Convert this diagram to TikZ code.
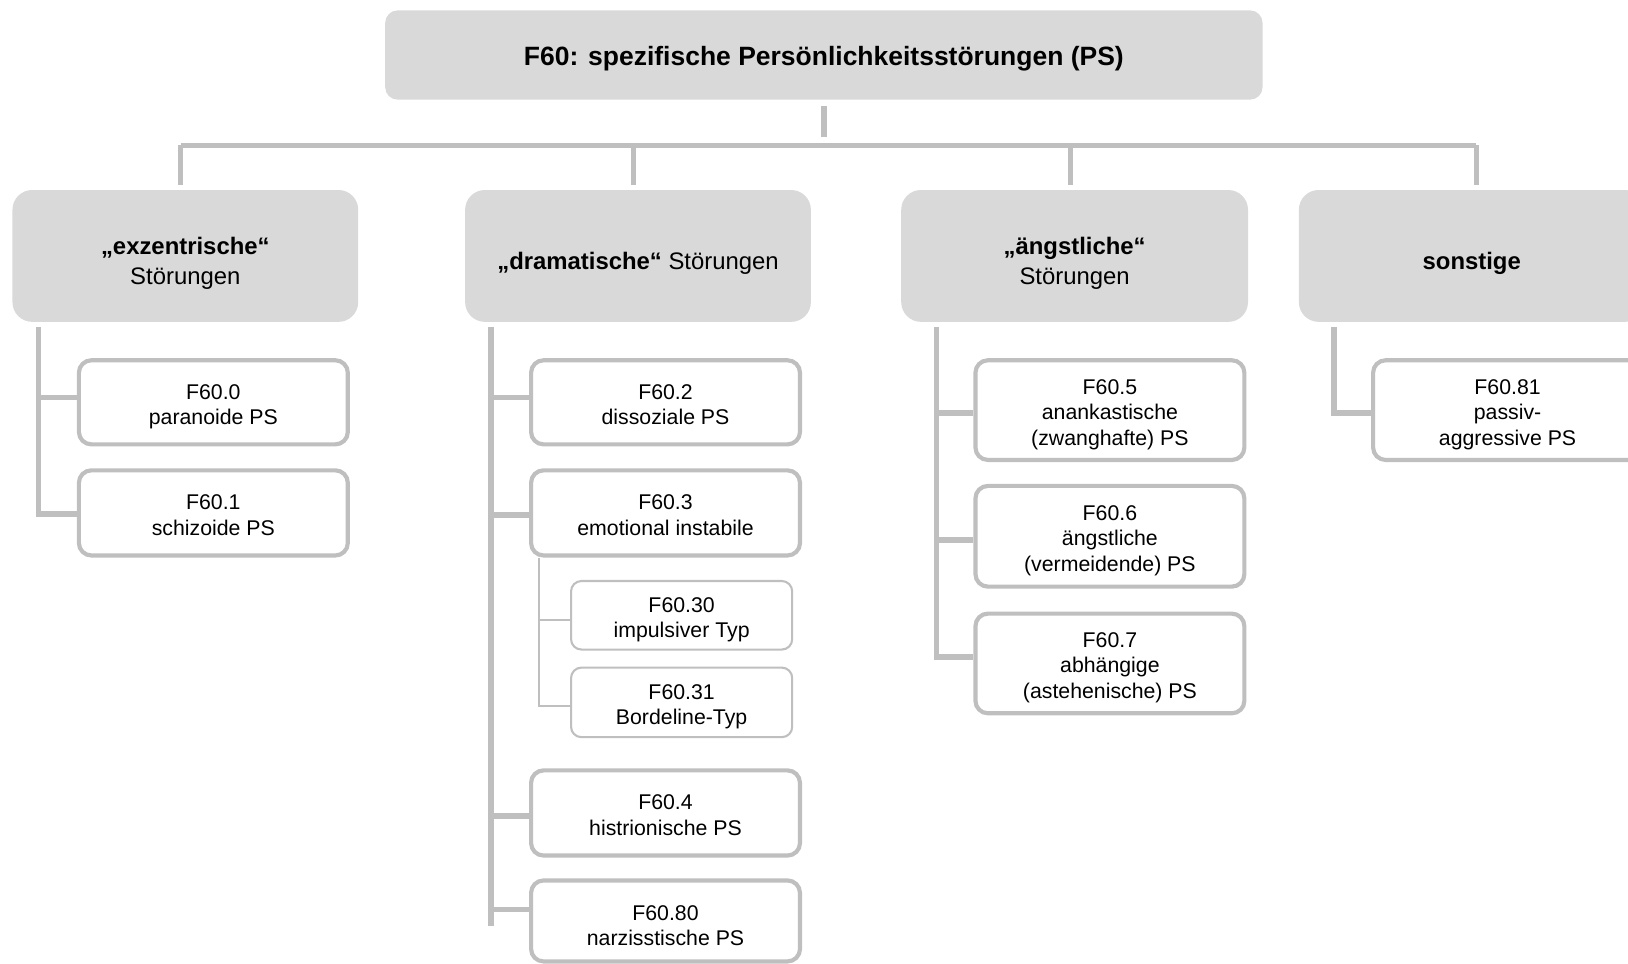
\documentclass[tikz,border=0pt]{standalone}
\usepackage{fontspec}
\setmainfont{Liberation Sans}
\definecolor{boxgray}{HTML}{D9D9D9}
\definecolor{linegray}{HTML}{BFBFBF}
\newcommand\fstrut[1]{\rule{0pt}{#1}}
\begin{document}
\begin{tikzpicture}[x=1pt,y=-1pt,
  conn/.style={draw=linegray,line width=5.3pt},
  subconn/.style={draw=linegray,line width=2.5pt},
  titlebox/.style={fill=boxgray,rounded corners=12pt,minimum width=845pt,minimum height=86pt,
    inner sep=0pt,font=\fontsize{25.5}{30}\selectfont\bfseries,
    execute at begin node={\rule{0pt}{25.9pt}},execute at end node={\rule[-5.6pt]{0pt}{0pt}}},
  catbox/.style={fill=boxgray,rounded corners=19pt,minimum width=333pt,minimum height=127pt,
    inner sep=0pt,align=center,font=\fontsize{23}{29}\selectfont,
    execute at begin node={\rule{0pt}{31.5pt}},execute at end node={\rule[-5.1pt]{0pt}{0pt}}},
  kidbox/.style={draw=linegray,line width=4pt,fill=white,rounded corners=12pt,minimum width=259pt,
    inner sep=0pt,align=center,font=\fontsize{20.5}{24.5}\selectfont,
    execute at begin node={\rule{0pt}{29.7pt}},execute at end node={\rule[-4.5pt]{0pt}{0pt}}},
  subbox/.style={draw=linegray,line width=2pt,fill=white,rounded corners=10pt,minimum width=213pt,
    inner sep=0pt,align=center,font=\fontsize{20.5}{24.5}\selectfont,
    execute at begin node={\rule{0pt}{26.2pt}},execute at end node={\rule[-4.5pt]{0pt}{0pt}}}]
\clip (0,0) rectangle (1568,928);

% top node
\node[titlebox] (top) at (793.5,53) {F60: spezifische Persönlichkeitsstörungen (PS)};

% categories
\node[catbox] (k1) at (178.5,246.5) {\fstrut{31.5pt}\textbf{„exzentrische“}\\Störungen};
\node[catbox] (k2) at (614.5,246.5) {\textbf{„dramatische“} Störungen};
\node[catbox,minimum width=334pt] (k3) at (1035,246.5) {\fstrut{31.5pt}\textbf{„ängstliche“}\\Störungen};
\node[catbox] (k4) at (1417.5,246.5) {\textbf{sonstige}};

% children column 1
\node[kidbox,minimum height=81pt] (c00) at (205.5,387.5) {\fstrut{22.7pt}F60.0\\paranoide PS};
\node[kidbox,minimum height=82pt] (c01) at (205.5,494) {\fstrut{22.7pt}F60.1\\schizoide PS};
% column 2
\node[kidbox,minimum height=81pt] (c2) at (641,387.5) {\fstrut{22.7pt}F60.2\\dissoziale PS};
\node[kidbox,minimum height=82pt] (c3) at (641,494) {\fstrut{22.7pt}F60.3\\emotional instabile};
\node[subbox,minimum height=66pt] (c30) at (656.5,592.6) {\fstrut{22.7pt}F60.30\\impulsiver Typ};
\node[subbox,minimum height=67pt] (c31) at (656.5,676.5) {\fstrut{22.7pt}F60.31\\Bordeline-Typ};
\node[kidbox,minimum height=82pt] (c4) at (641,783) {\fstrut{22.7pt}F60.4\\histrionische PS};
\node[kidbox,minimum height=78pt] (c80) at (641,887) {\fstrut{27.7pt}F60.80\\narzisstische PS};
% column 3
\node[kidbox,minimum height=96pt] (c5) at (1069,395) {\fstrut{22.7pt}F60.5\\anankastische\\(zwanghafte) PS};
\node[kidbox,minimum height=97pt] (c6) at (1069,516.5) {\fstrut{22.7pt}F60.6\\ängstliche\\(vermeidende) PS};
\node[kidbox,minimum height=96pt] (c7) at (1069,639) {\fstrut{22.7pt}F60.7\\abhängige\\(astehenische) PS};
% column 4
\node[kidbox,minimum height=96pt] (c81) at (1452,395) {\fstrut{22.7pt}F60.81\\passiv-\\aggressive PS};

% top connectors
\draw[conn] ([yshift=-6pt]top.south) -- ([yshift=-36pt]top.south);
\coordinate (b1) at (174,140);
\coordinate (b2) at (610,140);
\coordinate (b3) at (1031,140);
\coordinate (b4) at (1422,140);
\draw[conn] (b1) -- (b4);
\draw[conn] (b1) -- ++(0,38);
\draw[conn] (b2) -- ++(0,38);
\draw[conn] (b3) -- ++(0,38);
\draw[conn] (b4) -- ++(0,38);

% spine 1
\coordinate (s1) at (37,315);
\coordinate (p00) at ([yshift=4.5pt]c00.west);
\coordinate (p01) at ([yshift=-1pt]c01.west);
\draw[conn] (s1) |- (p01);
\draw[conn] (p00) -- (p00 -| s1);

% spine 2
\coordinate (s2) at (473,315);
\coordinate (e2) at (473,892);
\coordinate (p2) at ([yshift=4.5pt]c2.west);
\coordinate (p3) at ([yshift=-2pt]c3.west);
\coordinate (p4) at ([yshift=-3pt]c4.west);
\coordinate (p80) at ([yshift=11pt]c80.west);
\draw[conn] (s2) -- (e2);
\draw[conn] (p2) -- (p2 -| s2);
\draw[conn] (p3) -- (p3 -| s2);
\draw[conn] (p4) -- (p4 -| s2);
\draw[conn] (p80) -- (p80 -| s2);

% sub spine under F60.3
\coordinate (ss) at (519,0 |- c3.south);
\coordinate (p30) at ([yshift=-4.4pt]c30.west);
\coordinate (p31) at ([yshift=-3.5pt]c31.west);
\draw[subconn] (ss) |- (p31);
\draw[subconn] (p30) -- (p30 -| ss);

% spine 3
\coordinate (s3) at (902,315);
\coordinate (p5) at ([yshift=-3pt]c5.west);
\coordinate (p6) at ([yshift=-3.5pt]c6.west);
\coordinate (p7) at ([yshift=6pt]c7.west);
\draw[conn] (s3) |- (p7);
\draw[conn] (p5) -- (p5 -| s3);
\draw[conn] (p6) -- (p6 -| s3);

% spine 4
\coordinate (s4) at (1285,315);
\coordinate (p81) at ([yshift=-3pt]c81.west);
\draw[conn] (s4) |- (p81);
\end{tikzpicture}
\end{document}
